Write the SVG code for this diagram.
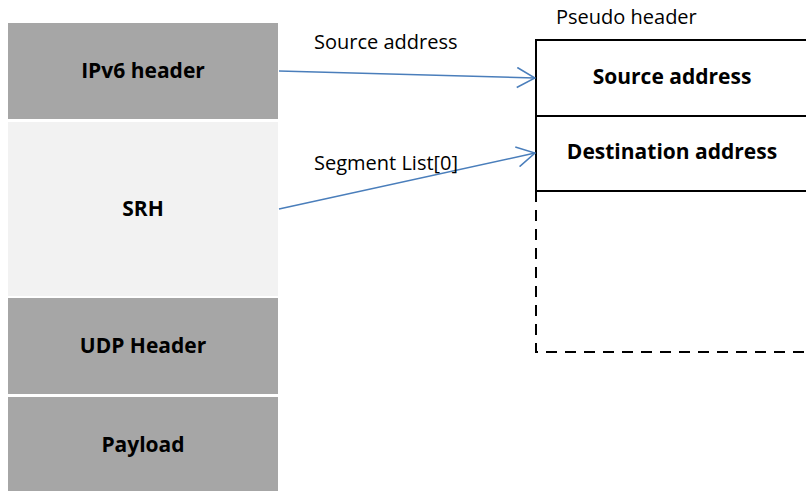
<svg xmlns="http://www.w3.org/2000/svg" width="806" height="491" viewBox="0 0 806 491">
  <style>
    .blk { fill: #a6a6a6; }
    .srh { fill: #f2f2f2; }
    .bold { font-family: "Open Sans", "Noto Sans", sans-serif; font-weight: bold; font-size: 21px; fill: #000; text-anchor: middle; }
    .lbl { font-family: "Open Sans", "Noto Sans", sans-serif; font-size: 20px; fill: #000; }
    .frame { fill: none; stroke: #000; stroke-width: 2; }
    .dash { fill: none; stroke: #000; stroke-width: 2; stroke-dasharray: 11 8; }
    .link { fill: none; stroke: #4a7ebb; stroke-width: 1.5; marker-end: url(#open); }
  </style>
  <defs>
    <marker id="open" viewBox="0 0 20 22" refX="19" refY="11" markerWidth="20" markerHeight="22" markerUnits="userSpaceOnUse" orient="auto">
      <path d="M1,1 L19,11 L1,21" fill="none" stroke="#4a7ebb" stroke-width="1.5"/>
    </marker>
  </defs>

  <rect width="806" height="491" fill="#fff"/>

  <!-- packet stack -->
  <g id="ipv6">
    <rect class="blk" x="8" y="23" width="270" height="96"/>
    <text class="bold" x="143" y="78">IPv6 header</text>
  </g>
  <g id="srh">
    <rect class="srh" x="8" y="122" width="270" height="174"/>
    <text class="bold" x="143" y="216">SRH</text>
  </g>
  <g id="udp">
    <rect class="blk" x="8" y="298" width="270" height="96"/>
    <text class="bold" x="143" y="353">UDP Header</text>
  </g>
  <g id="payload">
    <rect class="blk" x="8" y="397" width="270" height="94"/>
    <text class="bold" x="143" y="452">Payload</text>
  </g>

  <!-- pseudo header -->
  <g id="pseudo">
    <text class="lbl" x="556" y="24">Pseudo header</text>
    <path class="frame" d="M807,40 H536 V191 H807 M536,116 H807"/>
    <path class="dash" d="M536,191 V352 H807"/>
  </g>
  <g id="src-addr">
    <text class="bold" x="672" y="84">Source address</text>
  </g>
  <g id="dst-addr">
    <text class="bold" x="672" y="159">Destination address</text>
  </g>

  <!-- connectors -->
  <g id="connectors">
    <line class="link" x1="279" y1="71" x2="535" y2="78"/>
    <line class="link" x1="279" y1="209" x2="535" y2="153"/>
    <text class="lbl" x="314" y="49">Source address</text>
    <text class="lbl" x="314" y="170">Segment List[0]</text>
  </g>
</svg>
